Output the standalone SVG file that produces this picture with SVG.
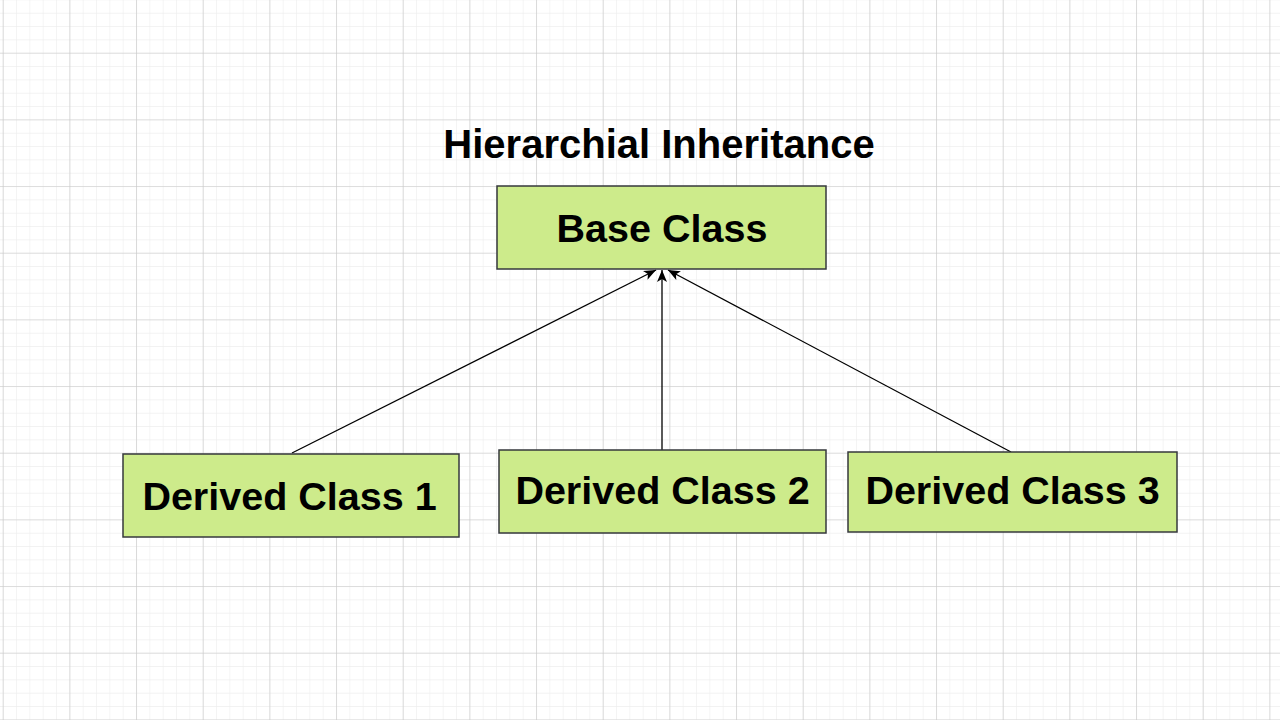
<svg xmlns="http://www.w3.org/2000/svg" width="1280" height="720" viewBox="0 0 1280 720">
<defs>
<pattern id="minor" x="2.7" y="-0.6" width="13.333" height="13.333" patternUnits="userSpaceOnUse">
<path d="M0 0V13.333M0 0H13.333" fill="none" stroke="#eeeeee" stroke-width="1.2"/>
</pattern>
<pattern id="major" x="2.7" y="52.7" width="66.667" height="66.667" patternUnits="userSpaceOnUse">
<path d="M0 0V66.667M0 0H66.667" fill="none" stroke="#c8c8c8" stroke-width="1.2"/>
</pattern>
<marker id="arrow" viewBox="0 0 12 10" refX="12" refY="5" markerWidth="12" markerHeight="10" markerUnits="userSpaceOnUse" orient="auto">
<path d="M0 0L12 5L0 10L3 5Z" fill="#000"/>
</marker>
<style>
.box{fill:#cdeb8b;stroke:#36393d;stroke-width:1.5}
.lbl{font-family:"Liberation Sans",Arial,sans-serif;font-weight:bold;font-size:39.5px;fill:#000;text-anchor:middle}
.title{font-size:40px}
.conn{stroke:#000;stroke-width:1.3;fill:none;marker-end:url(#arrow)}
</style>
</defs>
<rect width="1280" height="720" fill="#fff"/>
<rect width="1280" height="720" fill="url(#minor)"/>
<rect width="1280" height="720" fill="url(#major)"/>
<text id="title" class="lbl title" x="659" y="158">Hierarchial Inheritance</text>
<g id="connectors">
<line class="conn" x1="292" y1="453" x2="656" y2="270"/>
<line class="conn" x1="662" y1="450" x2="662" y2="270"/>
<line class="conn" x1="1011" y1="452" x2="668" y2="270"/>
</g>
<g id="base">
<rect class="box" x="497" y="186" width="329" height="83"/>
<text class="lbl" x="662" y="241.5">Base Class</text>
</g>
<g id="derived1">
<rect class="box" x="123" y="454" width="336" height="83"/>
<text class="lbl" x="289.5" y="510">Derived Class 1</text>
</g>
<g id="derived2">
<rect class="box" x="499" y="450" width="327" height="83"/>
<text class="lbl" x="662.5" y="503.5">Derived Class 2</text>
</g>
<g id="derived3">
<rect class="box" x="848" y="452" width="329" height="80"/>
<text class="lbl" x="1012.5" y="503.5">Derived Class 3</text>
</g>
</svg>
